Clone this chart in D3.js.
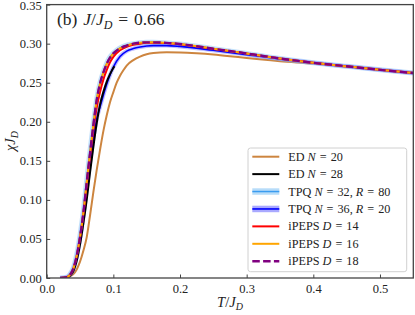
<!DOCTYPE html>
<html><head><meta charset="utf-8">
<script src="https://cdn.jsdelivr.net/npm/d3@7"></script>
<style>body{margin:0;background:#fff}svg{display:block}text{font-family:"Liberation Serif","DejaVu Serif",serif;fill:#222}</style>
</head><body><svg id="c" width="415" height="315"></svg>
<script>
const xTicks = [0.0, 0.1, 0.2, 0.3, 0.4, 0.5];
const yTicks = [0.00, 0.05, 0.10, 0.15, 0.20, 0.25, 0.30, 0.35];

const tED20 = [0.02,0.03,0.035,0.04,0.045,0.05,0.055,0.06,0.065,0.07,0.075,0.08,0.085,0.09,0.095,0.1,0.105,0.11,0.115,0.12,0.13,0.14,0.15,0.16,0.18,0.2,0.225,0.25,0.275,0.3,0.35,0.4,0.45,0.5,0.55];
const chiED20 = [0,0.0005,0.002,0.005,0.011,0.021,0.035,0.052,0.08,0.11,0.138,0.164,0.188,0.208,0.225,0.238,0.25,0.259,0.266,0.272,0.279,0.2835,0.2865,0.288,0.289,0.2888,0.2878,0.2862,0.284,0.2815,0.2775,0.2745,0.2705,0.2663,0.2624];

const tED28 = [0.02,0.03,0.035,0.04,0.045,0.05,0.055,0.06,0.065,0.07,0.075,0.08,0.085,0.09,0.095,0.1015];
const chiED28 = [0,0.001,0.003,0.009,0.022,0.043,0.07,0.1,0.135,0.168,0.198,0.222,0.238,0.251,0.261,0.271];

const tMain = [0.02,0.03,0.035,0.04,0.045,0.05,0.055,0.06,0.065,0.07,0.075,0.08,0.085,0.09,0.095,0.1,0.11,0.12,0.13,0.14,0.15,0.16,0.18,0.2,0.25,0.3,0.35,0.4,0.45,0.5,0.55];
const chiTPQ32 = [0,0.001,0.005,0.013,0.03,0.055,0.086,0.125,0.163,0.198,0.229,0.25,0.264,0.275,0.283,0.288,0.2945,0.298,0.3,0.3012,0.3017,0.3017,0.301,0.2995,0.2935,0.2875,0.281,0.2755,0.271,0.2665,0.2624];
const chiTPQ36 = [0,0.001,0.004,0.011,0.026,0.049,0.078,0.113,0.148,0.178,0.203,0.219,0.234,0.248,0.26,0.27,0.2835,0.2905,0.2937,0.2957,0.297,0.2975,0.2975,0.2965,0.2915,0.286,0.2805,0.2755,0.271,0.2665,0.2624];
const chiD14 = [0,0.001,0.004,0.012,0.028,0.052,0.082,0.12,0.156,0.19,0.218,0.238,0.254,0.266,0.276,0.283,0.2915,0.296,0.2985,0.3,0.301,0.3013,0.3008,0.2993,0.2933,0.2873,0.281,0.2755,0.271,0.2665,0.2624];
const chiD16 = [0,0.001,0.004,0.012,0.028,0.052,0.083,0.122,0.16,0.196,0.228,0.249,0.263,0.274,0.282,0.2875,0.294,0.2975,0.3,0.3012,0.3017,0.3017,0.301,0.2995,0.2935,0.2875,0.281,0.2755,0.271,0.2665,0.2624];
const chiD18 = [0,0.001,0.004,0.012,0.028,0.052,0.083,0.122,0.16,0.196,0.228,0.249,0.263,0.274,0.282,0.2875,0.294,0.2975,0.3,0.3012,0.3017,0.3017,0.301,0.2995,0.2935,0.2875,0.281,0.2755,0.271,0.2665,0.2624];

const svg = d3.select("#c");
const L = 46.7, R = 413.3, T = 4.6, B = 278;
const x = d3.scaleLinear().domain([0, 0.55]).range([L, R]);
const y = d3.scaleLinear().domain([0, 0.35]).range([B, T]);

const clip = svg.append("defs").append("clipPath").attr("id","pc");
clip.append("rect").attr("x",L).attr("y",T).attr("width",R-L).attr("height",B-T);
const g = svg.append("g").attr("clip-path","url(#pc)");
const line = d3.line().x(d=>x(d[0])).y(d=>y(d[1])).curve(d3.curveMonotoneX);
const pts = (ts, cs) => ts.map((t,i)=>[t, cs[i]]);

const series = [
  {ts:tED20, cs:chiED20, color:"#cd853f", w:2},
  {ts:tED28, cs:chiED28, color:"#000", w:2},
  {ts:tMain, cs:chiTPQ32, color:"#3a9cf0", w:1.5, band:"#87c4f5", bw:5, bo:0.5},
  {ts:tMain, cs:chiTPQ36, color:"#0000ff", w:1.6, band:"#6f6fff", bw:4, bo:0.45},
  {ts:tMain, cs:chiD14, color:"#ff0000", w:2},
  {ts:tMain, cs:chiD16, color:"#ffa500", w:2},
  {ts:tMain, cs:chiD18, color:"#800080", w:2.4, dash:"7.5,3.3"}
];
const drawOrder = [0, 2, 3, 1, 4, 5, 6];
drawOrder.forEach(k=>{
  const s = series[k];
  const p = pts(s.ts, s.cs);
  if (s.band) g.append("path").attr("d",line(p)).attr("fill","none").attr("stroke",s.band).attr("stroke-opacity",s.bo).attr("stroke-width",s.bw);
  g.append("path").attr("d",line(p)).attr("fill","none").attr("stroke",s.color).attr("stroke-width",s.w).attr("stroke-dasharray",s.dash||null);
});

// axes
const ax = svg.append("g").attr("transform",`translate(0,${B})`).call(d3.axisBottom(x).tickValues(xTicks).tickFormat(d3.format(".1f")).tickSizeInner(-3.5).tickSizeOuter(0).tickPadding(6));
const ay = svg.append("g").attr("transform",`translate(${L},0)`).call(d3.axisLeft(y).tickValues(yTicks).tickFormat(d3.format(".2f")).tickSizeInner(-3.5).tickSizeOuter(0).tickPadding(5));
[ax, ay].forEach(a=>{
  a.attr("font-family",null);
  a.select(".domain").remove();
  a.selectAll("line").attr("stroke","#444").attr("stroke-width",1);
  a.selectAll("text").style("font-family","'Liberation Serif',serif").style("font-size","12.5px").attr("fill","#222");
});
ay.selectAll(".tick").filter(d=>d===0.35).select("text").attr("dy","0.42em");
svg.append("rect").attr("x",L).attr("y",T).attr("width",R-L).attr("height",B-T).attr("fill","none").attr("stroke","#444").attr("stroke-width",1.3);

const SP = "\u2004";
// title
const tt = svg.append("text").attr("x",57).attr("y",25).style("font-size","17.5px");
tt.append("tspan").text("(b)" + SP);
tt.append("tspan").attr("font-style","italic").text("J");
tt.append("tspan").text("/");
tt.append("tspan").attr("font-style","italic").text("J");
tt.append("tspan").attr("font-style","italic").attr("font-size","12px").attr("dy",3.5).text("D");
tt.append("tspan").attr("dy",-3.5).text(SP + "=" + SP + "0.66");

// axis labels
const xl = svg.append("text").attr("x",230).attr("y",307).attr("text-anchor","middle").style("font-size","14.5px");
xl.append("tspan").attr("font-style","italic").text("T");
xl.append("tspan").text("/");
xl.append("tspan").attr("font-style","italic").text("J");
xl.append("tspan").attr("font-style","italic").attr("font-size","10px").attr("dy",3).text("D");
const yl = svg.append("text").attr("transform","translate(15,141) rotate(-90)").attr("text-anchor","middle").style("font-size","14.5px");
yl.append("tspan").attr("font-style","italic").text("χJ");
yl.append("tspan").attr("font-style","italic").attr("font-size","10px").attr("dy",3).text("D");

// legend
const legItems = [
  {parts:[["ED ",0],["N",1],[SP+"="+SP+"20",0]], s:series[0]},
  {parts:[["ED ",0],["N",1],[SP+"="+SP+"28",0]], s:series[1]},
  {parts:[["TPQ ",0],["N",1],[SP+"="+SP+"32, ",0],["R",1],[SP+"="+SP+"80",0]], s:series[2]},
  {parts:[["TPQ ",0],["N",1],[SP+"="+SP+"36, ",0],["R",1],[SP+"="+SP+"20",0]], s:series[3]},
  {parts:[["iPEPS ",0],["D",1],[SP+"="+SP+"14",0]], s:series[4]},
  {parts:[["iPEPS ",0],["D",1],[SP+"="+SP+"16",0]], s:series[5]},
  {parts:[["iPEPS ",0],["D",1],[SP+"="+SP+"18",0]], s:series[6]}
];
svg.append("rect").attr("x",248).attr("y",148).attr("width",158.7).attr("height",123.7).attr("rx",2.5).attr("fill","#fff").attr("fill-opacity",0.85).attr("stroke","#d0d0d0").attr("stroke-width",1);
legItems.forEach((it,i)=>{
  const cy = 156.7 + i*17.42;
  if (it.s.band) svg.append("line").attr("x1",252.3).attr("x2",279.3).attr("y1",cy).attr("y2",cy).attr("stroke",it.s.band).attr("stroke-opacity",0.6).attr("stroke-width",6.5);
  svg.append("line").attr("x1",252.3).attr("x2",279.3).attr("y1",cy).attr("y2",cy).attr("stroke",it.s.color).attr("stroke-width",it.s.w).attr("stroke-dasharray",it.s.dash||null);
  const t = svg.append("text").attr("x",288.3).attr("y",cy+4).style("font-size","12.2px");
  it.parts.forEach(p=>t.append("tspan").attr("font-style",p[1]?"italic":null).text(p[0]));
});
</script></body></html>
